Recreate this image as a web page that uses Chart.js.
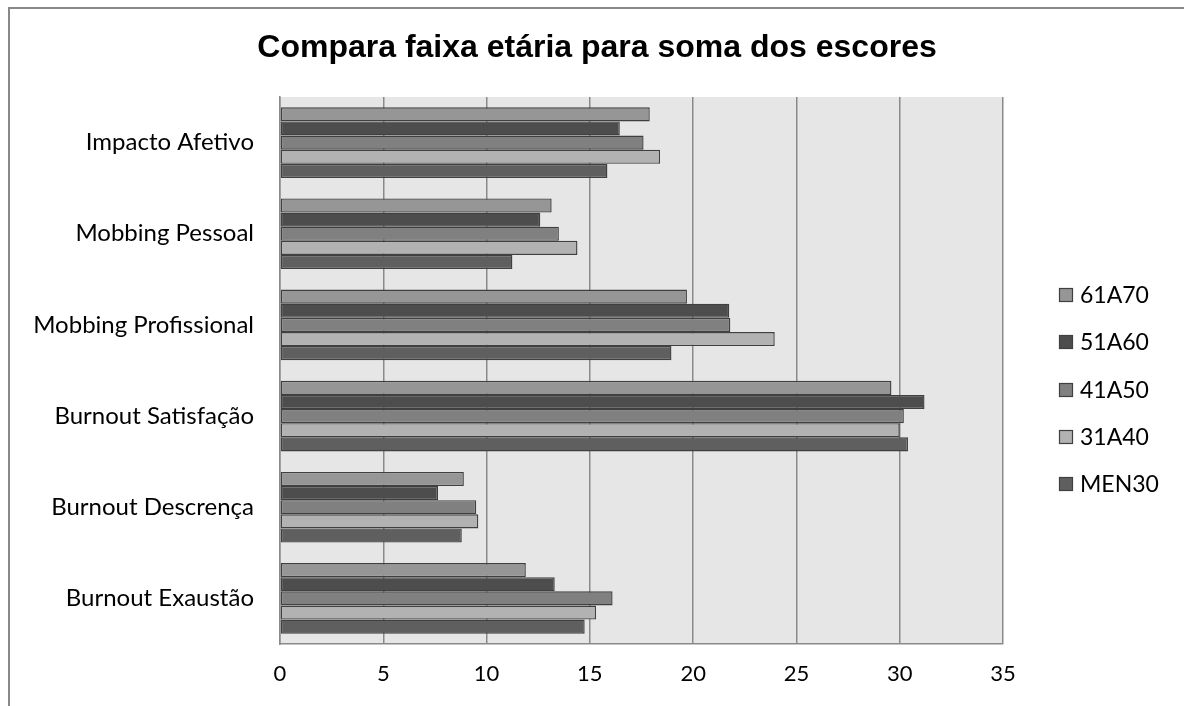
<!DOCTYPE html>
<html lang="pt">
<head>
<meta charset="utf-8">
<title>Compara faixa etária para soma dos escores</title>
<script src="https://cdn.jsdelivr.net/npm/chart.js@4/dist/chart.umd.min.js"></script>
<style>
  html, body { margin: 0; padding: 0; background: #ffffff; }
  #wrap { width: 1184px; height: 706px; }
</style>
</head>
<body>
<div id="wrap"><canvas id="grafico" width="1184" height="706"></canvas></div>
<script>
// Escalas avaliadas (de cima para baixo)
const categorias = [
  'Impacto Afetivo',
  'Mobbing Pessoal',
  'Mobbing Profissional',
  'Burnout Satisfação',
  'Burnout Descrença',
  'Burnout Exaustão'
];

// Faixas etárias (ordem das barras dentro de cada grupo)
const faixas = ['61A70', '51A60', '41A50', '31A40', 'MEN30'];

// Soma dos escores por faixa etária
const faixa61a70 = [17.9, 13.15, 19.7, 29.6, 8.9, 11.9];
const faixa51a60 = [16.45, 12.6, 21.75, 31.2, 7.65, 13.3];
const faixa41a50 = [17.6, 13.5, 21.8, 30.2, 9.5, 16.1];
const faixa31a40 = [18.4, 14.4, 23.95, 30.0, 9.6, 15.3];
const faixaMen30 = [15.85, 11.25, 18.95, 30.4, 8.8, 14.75];

// Marcas do eixo horizontal
const eixoMin = 0;
const eixoMax = 35;
const eixoPasso = 5;

const valores = [faixa61a70, faixa51a60, faixa41a50, faixa31a40, faixaMen30];
const cores = ['#969696', '#4d4d4d', '#808080', '#b2b2b2', '#5f5f5f'];

const fonteTexto = 'Lato';

// Moldura externa e fundo cinza da área de plotagem
const fundo = {
  id: 'fundo',
  beforeDraw(chart) {
    const { ctx, chartArea } = chart;
    ctx.save();
    ctx.fillStyle = '#ffffff';
    ctx.fillRect(0, 0, chart.width, chart.height);
    ctx.strokeStyle = '#888888';
    ctx.lineWidth = 2;
    ctx.strokeRect(9, 8, chart.width + 20, chart.height + 20);
    ctx.fillStyle = '#e6e6e6';
    ctx.fillRect(chartArea.left, chartArea.top,
                 chartArea.right - chartArea.left, chartArea.bottom - chartArea.top);
    ctx.restore();
  }
};

// Legenda em coluna à direita da área de plotagem
const legendaLateral = {
  id: 'legendaLateral',
  afterDraw(chart) {
    const { ctx, chartArea } = chart;
    const x0 = chartArea.right + 56;
    const y0 = 295;
    const passo = 47.3;
    ctx.save();
    ctx.font = '23px ' + fonteTexto;
    ctx.textBaseline = 'middle';
    ctx.textAlign = 'left';
    chart.data.datasets.forEach((ds, i) => {
      const y = Math.round(y0 + i * passo);
      ctx.fillStyle = ds.backgroundColor;
      ctx.fillRect(x0, y - 7, 14, 14);
      ctx.strokeStyle = '#404040';
      ctx.lineWidth = 1.2;
      ctx.strokeRect(x0 + 0.5, y - 6.5, 13, 13);
      ctx.fillStyle = '#000000';
      ctx.fillText(ds.label, x0 + 21, y + 1);
    });
    ctx.restore();
  }
};

function desenhar() {
  new Chart(document.getElementById('grafico'), {
    type: 'bar',
    data: {
      labels: categorias,
      datasets: faixas.map((nome, i) => ({
        label: nome,
        data: valores[i],
        backgroundColor: cores[i],
        borderColor: '#404040',
        borderWidth: 1.4,
        borderSkipped: false,
        barPercentage: 1.0,
        categoryPercentage: 0.775
      }))
    },
    options: {
      indexAxis: 'y',
      responsive: false,
      animation: false,
      devicePixelRatio: 1,
      layout: { padding: { left: 10, right: 0, top: 0, bottom: 0 } },
      plugins: {
        legend: { display: false },
        tooltip: { enabled: false },
        title: {
          display: true,
          text: 'Compara faixa etária para soma dos escores',
          color: '#000000',
          font: { family: 'Liberation Sans', size: 32, weight: 'bold', lineHeight: 1.2 },
          padding: { top: 29, bottom: 29.6 }
        }
      },
      scales: {
        x: {
          type: 'linear',
          position: 'bottom',
          min: eixoMin,
          max: eixoMax,
          ticks: {
            stepSize: eixoPasso,
            color: '#000000',
            font: { family: fonteTexto, size: 22 },
            padding: 17
          },
          grid: {
            color: '#8a8a8a',
            lineWidth: 1.5,
            drawTicks: false
          },
          border: { display: true, color: '#8a8a8a', width: 1.5 },
          afterFit(scale) { scale.height = 62; }
        },
        y: {
          type: 'category',
          position: 'left',
          ticks: {
            color: '#000000',
            font: { family: fonteTexto, size: 24 },
            padding: 26
          },
          grid: { display: false, drawTicks: false },
          border: { display: true, color: '#8a8a8a', width: 1.5 },
          afterFit(scale) { scale.width = 270; }
        },
        colunaLegenda: {
          type: 'linear',
          position: 'right',
          display: true,
          ticks: { display: false },
          grid: { display: false, drawTicks: false },
          border: { display: false },
          afterFit(scale) { scale.width = 181; }
        }
      }
    },
    plugins: [fundo, legendaLateral]
  });
}

Promise.all([
  document.fonts.load('22px ' + fonteTexto),
  document.fonts.load('bold 32px "Liberation Sans"')
]).then(desenhar, desenhar);
</script>
</body>
</html>
